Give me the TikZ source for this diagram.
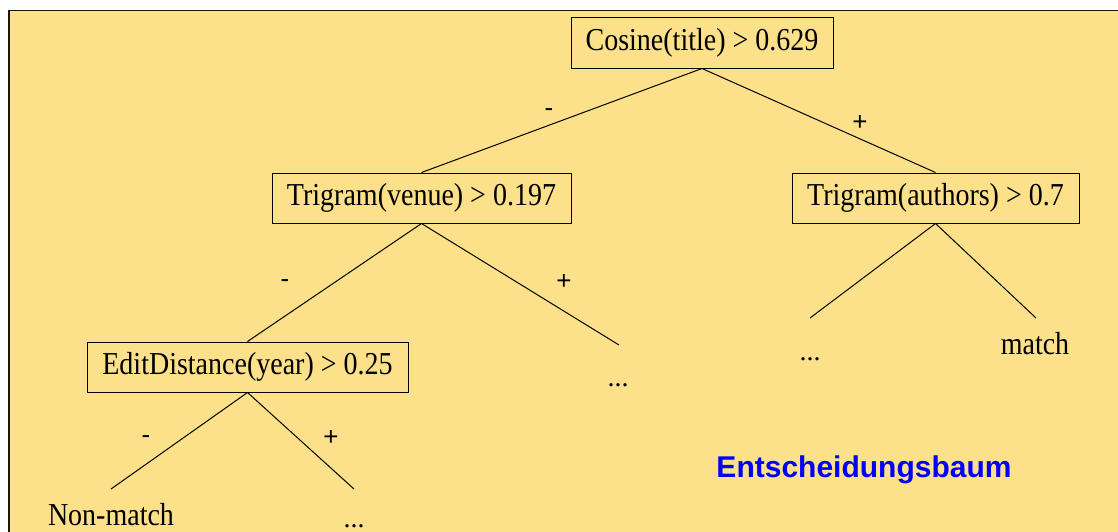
\documentclass[tikz,border=0pt]{standalone}
\usepackage{fontspec}
\usepackage{graphicx}
\setmainfont{Liberation Serif}
\newfontfamily\arialfont{Liberation Sans}
\definecolor{bgyellow}{RGB}{253,225,138}
\definecolor{titleblue}{RGB}{0,0,255}
\newcommand{\talltext}[1]{\scalebox{1}[1.14]{#1}}
\begin{document}
\begin{tikzpicture}[x=1pt,y=-1pt,
  testbox/.style={draw=black,line width=1pt,fill=bgyellow,inner sep=0pt,font=\fontsize{28}{34}\selectfont},
  leaftext/.style={inner sep=0pt,font=\fontsize{28}{34}\selectfont},
  signlabel/.style={inner sep=0pt,font=\arialfont\fontsize{26}{30}\selectfont},
  edge/.style={draw=black,line width=1pt}]
\useasboundingbox (0,0) rectangle (1118,531);
\fill[white] (0,0) rectangle (1118,531);
\draw[fill=bgyellow,draw=black!85!brown,line width=1.6pt] (9,10.5) rectangle (1125,540);
% decision nodes
\node[testbox,minimum width=262pt,minimum height=51pt] (root) at (702,42.5) {\talltext{Cosine(title) > 0.629}};
\node[testbox,minimum width=299pt,minimum height=50pt] (venue) at (421.5,198) {\talltext{Trigram(venue) > 0.197}};
\node[testbox,minimum width=287pt,minimum height=50pt] (authors) at (935.5,198) {\talltext{Trigram(authors) > 0.7}};
\node[testbox,minimum width=321pt,minimum height=50pt] (ed) at (247.5,367) {\talltext{EditDistance(year) > 0.25}};
% free ends
\coordinate (venueplus) at (619,345);
\coordinate (authminus) at (810,318);
\coordinate (authplus) at (1036,318);
\coordinate (edminus) at (111,489);
\coordinate (edplus) at (354,489);
% connectors
\draw[edge] (root.south) -- (venue.north);
\draw[edge] (root.south) -- (authors.north);
\draw[edge] (venue.south) -- (ed.north);
\draw[edge] (venue.south) -- (venueplus);
\draw[edge] (authors.south) -- (authminus);
\draw[edge] (authors.south) -- (authplus);
\draw[edge] (ed.south) -- (edminus);
\draw[edge] (ed.south) -- (edplus);
% sign labels
\node[signlabel] (l1) at (549,113) {-};
\node[signlabel] (l2) at (860,123) {+};
\node[signlabel] (l3) at (285,284) {-};
\node[signlabel] (l4) at (564,282) {+};
\node[signlabel] (l5) at (146,440) {-};
\node[signlabel] (l6) at (331,438) {+};
% leaves
\node[leaftext] (nonmatch) at (111,515) {\talltext{Non-match}};
\node[leaftext,anchor=base] (dots1) at (354,527) {...};
\node[leaftext,anchor=base] (dots2) at (618,386) {...};
\node[leaftext,anchor=base] (dots3) at (810,360) {...};
\node[leaftext,anchor=base] (match) at (1035,354) {\talltext{match}};
% title
\node[inner sep=0pt,font=\arialfont\bfseries\fontsize{30}{36}\selectfont,text=titleblue] (title) at (864,470) {Entscheidungsbaum};
\end{tikzpicture}
\end{document}
